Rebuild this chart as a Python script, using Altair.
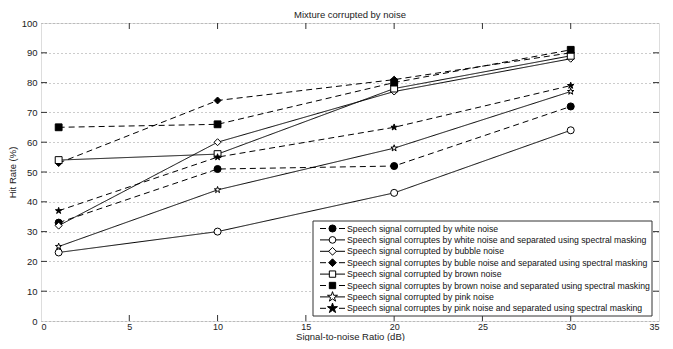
import altair as alt
import pandas as pd

snr = [1, 10, 20, 30]
names = [
    "Speech signal corrupted by white noise",
    "Speech signal corruptes by white noise and separated using spectral masking",
    "Speech signal corrupted by bubble noise",
    "Speech signal corruptes by buble noise and separated using spectral masking",
    "Speech signal corrupted by brown noise",
    "Speech signal corruptes by brown noise and separated using spectral masking",
    "Speech signal corrupted by pink noise",
    "Speech signal corruptes by pink noise and separated using spectral masking",
]
white = [33, 51, 52, 72]
white_sep = [23, 30, 43, 64]
bubble = [32, 60, 77, 88]
bubble_sep = [53, 74, 81, 90]
brown = [54, 56, 78, 89]
brown_sep = [65, 66, 80, 91]
pink = [25, 44, 58, 77]
pink_sep = [37, 55, 65, 79]
values = [white, white_sep, bubble, bubble_sep, brown, brown_sep, pink, pink_sep]

dashed = [True, False, False, True, False, True, False, True]
STAR = ("M0,-1L0.225,-0.309L0.951,-0.309L0.363,0.118L0.588,0.809L0,0.382"
        "L-0.588,0.809L-0.363,0.118L-0.951,-0.309L-0.225,-0.309Z")
shapes = ["circle", "circle", "diamond", "diamond", "square", "square", STAR, STAR]
filled = [True, False, False, True, False, True, False, True]
sizes = [50, 45, 60, 60, 40, 40, 110, 110]

xticks = [0, 5, 10, 15, 20, 25, 30, 35]
yticks = [0, 10, 20, 30, 40, 50, 60, 70, 80, 90, 100]

rows = []
for n, vals in zip(names, values):
    for x, y in zip(snr, vals):
        rows.append({"series": n, "snr": x, "hit": y})
df = pd.DataFrame(rows)

FONT = "Liberation Sans"
W, H = 618, 298
dash_range = [[6, 4] if d else [1, 0] for d in dashed]
fill_range = ["black" if f else "white" for f in filled]

xs = alt.Scale(domain=[0, 35], nice=False)
ys = alt.Scale(domain=[0, 100], nice=False)

X = alt.X("snr:Q", scale=xs, axis=alt.Axis(values=xticks, tickSize=0, domain=False, grid=False,
                                           labelPadding=1, title="Signal-to-noise Ratio (dB)",
                                           titlePadding=0, labelFontSize=9, titleFontSize=9.5,
                                           titleFontWeight="normal", labelFont=FONT, titleFont=FONT,
                                           labelColor="#222", titleColor="#222", labelOverlap=False))
Y = alt.Y("hit:Q", scale=ys, axis=alt.Axis(values=yticks, tickSize=0, domain=False, grid=True,
                                           gridDash=[1, 3], gridColor="#999", gridWidth=1,
                                           labelPadding=4, title="Hit Rate (%)", titlePadding=4,
                                           labelFontSize=9.5, titleFontSize=9.5, labelOverlap=False,
                                           titleFontWeight="normal", labelFont=FONT, titleFont=FONT,
                                           labelColor="#222", titleColor="#222"))

lines = alt.Chart(df).mark_line(color="black", strokeWidth=1).encode(
    x=X, y=Y, detail="series:N",
    strokeDash=alt.StrokeDash("series:N", scale=alt.Scale(domain=names, range=dash_range), legend=None),
)
points = alt.Chart(df).mark_point(filled=True, stroke="black", strokeWidth=1, opacity=1).encode(
    x=X, y=Y,
    shape=alt.Shape("series:N", scale=alt.Scale(domain=names, range=shapes), legend=None),
    fill=alt.Fill("series:N", scale=alt.Scale(domain=names, range=fill_range), legend=None),
    size=alt.Size("series:N", scale=alt.Scale(domain=names, range=sizes), legend=None),
)

# inward ticks (box style), drawn on the same scales/fields as the data
tl_y = 6 * 100 / H
tl_x = 6 * 35 / W
trows = []
for t in xticks[1:-1]:
    trows.append({"snr": t, "snr2": t, "hit": 0, "hit2": tl_y})
    trows.append({"snr": t, "snr2": t, "hit": 100 - tl_y, "hit2": 100})
for t in yticks[1:-1]:
    trows.append({"snr": 0, "snr2": tl_x, "hit": t, "hit2": t})
    trows.append({"snr": 35 - tl_x, "snr2": 35, "hit": t, "hit2": t})
ticks = alt.Chart(pd.DataFrame(trows)).mark_rule(color="#333").encode(
    x=X, x2="snr2:Q", y=Y, y2="hit2:Q")

# legend
one = pd.DataFrame({"a": [0]})
lx0, lx1, ly0, ly1 = 272, 611, 198, 293
leg = [alt.Chart(one).mark_rect(fill="white", stroke="#333", strokeWidth=1).encode(
    x=alt.value(lx0), x2=alt.value(lx1), y=alt.value(ly0), y2=alt.value(ly1))]
for i, n in enumerate(names):
    yy = 205.5 + i * 11.4
    leg.append(alt.Chart(one).mark_rule(color="black", strokeWidth=1,
                                        strokeDash=[6, 13] if dashed[i] else [1, 0]).encode(
        x=alt.value(279), x2=alt.value(304), y=alt.value(yy), y2=alt.value(yy)))
    leg.append(alt.Chart(one).mark_point(filled=True, stroke="black", strokeWidth=1, opacity=1,
                                         shape=shapes[i], fill=fill_range[i], size=sizes[i]).encode(
        x=alt.value(291.5), y=alt.value(yy)))
    leg.append(alt.Chart(one).mark_text(align="left", baseline="middle", font=FONT, fontSize=8.7,
                                        color="#111").encode(
        x=alt.value(306), y=alt.value(yy), text=alt.value(n)))

chart = alt.layer(lines, points, ticks, *leg).properties(
    width=W, height=H,
    title=alt.Title("Mixture corrupted by noise", fontSize=9.5, fontWeight="normal", font=FONT,
                    color="#222", offset=3, dy=4, anchor="middle"),
    autosize=alt.AutoSizeParams(type="none"),
    padding={"left": 33, "top": 15, "right": 6, "bottom": 20},
).configure_view(stroke="#444", strokeWidth=1).configure(background="white")

chart.save("out.html", embed_options={"renderer": "svg", "actions": False})
